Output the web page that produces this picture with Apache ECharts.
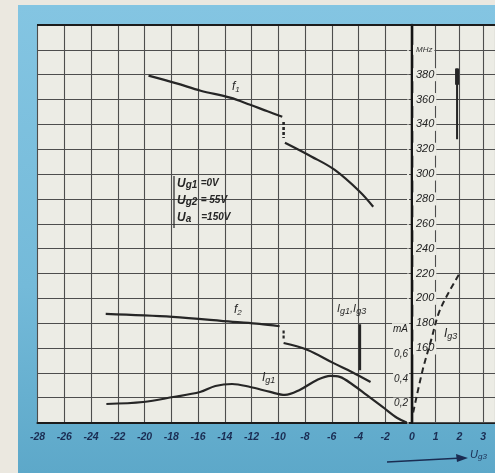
<!DOCTYPE html>
<html>
<head>
<meta charset="utf-8">
<script src="https://cdn.jsdelivr.net/npm/echarts@6/dist/echarts.min.js"></script>
<style>
  html, body { margin: 0; padding: 0; background: #ebe8e0; }
  #frame { position: absolute; left: 18px; top: 5px; width: 477px; height: 468px;
           background: linear-gradient(180deg, #84c5e2 0%, #74bad9 60%, #5da8c9 100%); }
  #chart { position: absolute; left: 0; top: 0; width: 495px; height: 473px; }
</style>
</head>
<body>
<div id="frame"></div>
<div id="chart"></div>
<script>
// Grid voltage Ug3 (V) and the measured curves
const f1UpperUg  = [-19.7, -17.6, -15.8, -13.6, -12.1, -10.8, -9.7];
const f1UpperMHz = [379.2, 373.0, 367.1, 361.5, 355.8, 350.5, 346.2];
const f1StepUg   = [-9.6, -9.6];
const f1StepMHz  = [342, 329];
const f1LowerUg  = [-9.5, -7.5, -5.8, -3.9, -2.9];
const f1LowerMHz = [325.2, 314.0, 303.5, 285.8, 273.7];

const f2UpperUg  = [-22.9, -17.9, -13.4, -11.4, -9.9];
const f2UpperMHz = [187.4, 185.0, 181.0, 179.4, 177.5];
const f2StepUg   = [-9.6, -9.6];
const f2StepMHz  = [174, 166];
const f2LowerUg  = [-9.6, -7.8, -5.9, -4.5, -3.1];
const f2LowerMHz = [164.0, 158.4, 148.0, 140.7, 132.6];

const ig1Ug = [-22.85, -20.1, -17.85, -15.85, -14.7, -13.45, -12.1, -10.6, -9.5, -8.4, -7.1, -6.1, -5.4, -4.4, -3.4, -2.2, -1.1, -0.4];
const ig1mA = [0.149, 0.165, 0.205, 0.246, 0.294, 0.31, 0.286, 0.246, 0.222, 0.262, 0.342, 0.375, 0.367, 0.302, 0.222, 0.125, 0.036, 0.0];

const ig3Ug = [0.05, 0.45, 0.81, 1.13, 1.54, 2.02];
const ig3mA = [0.08, 0.423, 0.665, 0.882, 1.044, 1.205];

// Axis ranges and tick labels
const ugNegRange = [-28, 0];
const ugPosRange = [0, 3.5];
const mhzRange = [100, 420];
const maRange = [0, 3.2];
const mhzLabels = [160, 180, 200, 220, 240, 260, 280, 300, 320, 340, 360, 380];
const maLabels = { 2: '0,2', 4: '0,4', 6: '0,6', 8: 'mA' };

// Axis direction markers
const mhzArrowUg = [1.9, 1.9];
const mhzArrowMHz = [328, 385];
const maArrowUg = [-3.9, -3.9];
const maArrowmA = [0.42, 0.79];

const pair = (xs, ys) => xs.map((x, i) => [x, ys[i]]);

const INK = '#262626';
const GRIDC = '#4d4d4d';
const NAVY = '#1a2c52';
const PAPER = '#ecece5';
const FONT = '"Liberation Sans", Arial, sans-serif';

const chart = echarts.init(document.getElementById('chart'), null, { renderer: 'canvas' });

function curve(name, data, xi, yi, extra) {
  return Object.assign({
    name, type: 'line', xAxisIndex: xi, yAxisIndex: yi, data,
    symbol: 'none', smooth: 0.35, silent: true, z: 5,
    lineStyle: { color: INK, width: 2.2 }
  }, extra || {});
}

const option = {
  animation: false,
  backgroundColor: 'transparent',
  grid: [
    { left: 37.5, top: 25, width: 374.5, height: 397.5, show: true, backgroundColor: PAPER, borderWidth: 0 },
    { left: 412, top: 25, width: 86.5, height: 397.5, show: true, backgroundColor: PAPER, borderWidth: 0 }
  ],
  xAxis: [
    {
      gridIndex: 0, type: 'value', min: ugNegRange[0], max: ugNegRange[1], interval: 2,
      axisLine: { show: true, lineStyle: { color: '#1c1c1c', width: 2.2 } },
      axisTick: { show: false },
      axisLabel: { color: NAVY, fontFamily: FONT, fontStyle: 'italic', fontWeight: 'bold', fontSize: 10.5, margin: 9,
                   showMinLabel: true, showMaxLabel: true },
      splitLine: { show: true, lineStyle: { color: GRIDC, width: 1.1 } }
    },
    {
      gridIndex: 1, type: 'value', min: ugPosRange[0], max: ugPosRange[1], interval: 1,
      axisLine: { show: true, lineStyle: { color: '#1c1c1c', width: 2.2 } },
      axisTick: { show: false },
      axisLabel: { color: NAVY, fontFamily: FONT, fontStyle: 'italic', fontWeight: 'bold', fontSize: 10.5, margin: 9,
                   showMaxLabel: false,
                   formatter: v => (v > 0 && v <= 3 && Number.isInteger(v)) ? String(v) : '' },
      splitLine: { show: true, lineStyle: { color: GRIDC, width: 1.1 } }
    }
  ],
  yAxis: [
    {
      gridIndex: 0, type: 'value', min: mhzRange[0], max: mhzRange[1], interval: 20,
      axisLine: { show: true, lineStyle: { color: '#1c1c1c', width: 2.2 } },
      axisTick: { show: false }, axisLabel: { show: false },
      splitLine: { show: true, lineStyle: { color: GRIDC, width: 1.1 } }
    },
    {
      gridIndex: 0, type: 'value', min: maRange[0], max: maRange[1], interval: 0.2, position: 'right',
      axisLine: { show: true, onZero: false, lineStyle: { color: '#141414', width: 2.4 } },
      axisTick: { show: false },
      axisLabel: {
        inside: true, margin: 3, color: '#222', fontFamily: FONT, fontStyle: 'italic', fontSize: 10,
        backgroundColor: PAPER, padding: [1, 1, 0, 1], verticalAlign: 'top',
        formatter: v => maLabels[Math.round(v * 10)] || ''
      },
      splitLine: { show: false }, z: 4
    },
    {
      gridIndex: 1, type: 'value', min: mhzRange[0], max: mhzRange[1], interval: 20, position: 'left',
      axisLine: { show: false }, axisTick: { show: false },
      axisLabel: {
        inside: true, margin: 1, color: '#222', fontFamily: FONT, fontStyle: 'italic', fontSize: 11,
        backgroundColor: PAPER, padding: [1, 2, 1, 3],
        formatter: v => mhzLabels.includes(v) ? String(v) : (v === 400 ? '{u|MHz}' : ''),
        rich: { u: { fontSize: 8, fontFamily: FONT, fontStyle: 'italic', color: '#333' } }
      },
      splitLine: { show: true, lineStyle: { color: GRIDC, width: 1.1 } }, z: 4
    },
    {
      gridIndex: 1, type: 'value', min: maRange[0], max: maRange[1], show: false
    }
  ],
  series: [
    curve('f1', pair(f1UpperUg, f1UpperMHz), 0, 0),
    curve('f1 step', pair(f1StepUg, f1StepMHz), 0, 0, { smooth: false, lineStyle: { color: INK, width: 2.6, type: [3, 2] } }),
    curve('f1 ', pair(f1LowerUg, f1LowerMHz), 0, 0),
    curve('f2', pair(f2UpperUg, f2UpperMHz), 0, 0),
    curve('f2 step', pair(f2StepUg, f2StepMHz), 0, 0, { smooth: false, lineStyle: { color: INK, width: 2.2, type: [3, 2] } }),
    curve('f2 ', pair(f2LowerUg, f2LowerMHz), 0, 0),
    curve('Ig1', pair(ig1Ug, ig1mA), 0, 1),
    curve('Ig3', pair(ig3Ug, ig3mA), 1, 3, { lineStyle: { color: INK, width: 2, type: [6, 4] } }),
    curve('MHz marker', pair(mhzArrowUg, mhzArrowMHz), 1, 2, { smooth: false, lineStyle: { color: INK, width: 2 } }),
    curve('MHz marker head', pair(mhzArrowUg, [372, 385]), 1, 2, { smooth: false, lineStyle: { color: INK, width: 4 } }),
    curve('mA marker', pair(maArrowUg, maArrowmA), 0, 1, { smooth: false, lineStyle: { color: INK, width: 2.6 } })
  ],
  graphic: [
    // curve names
    { type: 'text', left: 232, top: 81, z: 10, style: { text: '{f|f}{s|1}', rich: {
        f: { fontFamily: FONT, fontStyle: 'italic', fontSize: 12, fill: INK },
        s: { fontFamily: FONT, fontStyle: 'italic', fontSize: 8, fill: INK, padding: [6, 0, 0, 0] } } } },
    { type: 'text', left: 234, top: 304, z: 10, style: { text: '{f|f}{s|2}', rich: {
        f: { fontFamily: FONT, fontStyle: 'italic', fontSize: 12, fill: INK },
        s: { fontFamily: FONT, fontStyle: 'italic', fontSize: 8, fill: INK, padding: [6, 0, 0, 0] } } } },
    { type: 'text', left: 262, top: 372, z: 10, style: { text: '{f|I}{s|g1}', rich: {
        f: { fontFamily: FONT, fontStyle: 'italic', fontSize: 12, fill: INK },
        s: { fontFamily: FONT, fontStyle: 'italic', fontSize: 9, fill: INK, padding: [5, 0, 0, 0] } } } },
    { type: 'text', left: 444, top: 328, z: 10, style: { text: '{f|I}{s|g3}', rich: {
        f: { fontFamily: FONT, fontStyle: 'italic', fontSize: 12, fill: INK },
        s: { fontFamily: FONT, fontStyle: 'italic', fontSize: 9, fill: INK, padding: [5, 0, 0, 0] } } } },
    { type: 'text', left: 337, top: 303, z: 10, style: { text: '{f|I}{s|g1}{f|,I}{s|g3}', rich: {
        f: { fontFamily: FONT, fontStyle: 'italic', fontSize: 11, fill: INK },
        s: { fontFamily: FONT, fontStyle: 'italic', fontSize: 9, fill: INK, padding: [5, 0, 0, 0] } } } },
    // operating conditions
    { type: 'line', z: 10, shape: { x1: 174, y1: 176, x2: 174, y2: 228 }, style: { stroke: INK, lineWidth: 1.2 } },
    { type: 'text', left: 177, top: 175, z: 10, style: {
        text: '{u|U}{s|g1} {v|=0V}\n{u|U}{s|g2} {v|= 55V}\n{u|U}{s|a}   {v|=150V}',
        lineHeight: 17, rich: {
          u: { fontFamily: FONT, fontStyle: 'italic', fontWeight: 'bold', fontSize: 12, fill: INK, lineHeight: 17 },
          s: { fontFamily: FONT, fontStyle: 'italic', fontWeight: 'bold', fontSize: 10, fill: INK, padding: [4, 0, 0, 0], lineHeight: 17 },
          v: { fontFamily: FONT, fontStyle: 'italic', fontWeight: 'bold', fontSize: 10, fill: INK, lineHeight: 17 } } } },
    // top frame edge
    { type: 'line', z: 10, shape: { x1: 37, y1: 25, x2: 495, y2: 25 }, style: { stroke: '#1c1c1c', lineWidth: 2 } },
    // Ug3 direction arrow below the axis
    { type: 'line', z: 10, shape: { x1: 387, y1: 462, x2: 462, y2: 458 }, style: { stroke: NAVY, lineWidth: 1.6 } },
    { type: 'polygon', z: 10, shape: { points: [[468, 458], [456, 454], [457, 462]] }, style: { fill: NAVY } },
    { type: 'text', left: 470, top: 449, z: 10, style: { text: '{u|U}{s|g3}', rich: {
        u: { fontFamily: FONT, fontStyle: 'italic', fontSize: 11, fill: NAVY },
        s: { fontFamily: FONT, fontStyle: 'italic', fontSize: 8, fill: NAVY, padding: [5, 0, 0, 0] } } } }
  ]
};

chart.setOption(option);
</script>
</body>
</html>
